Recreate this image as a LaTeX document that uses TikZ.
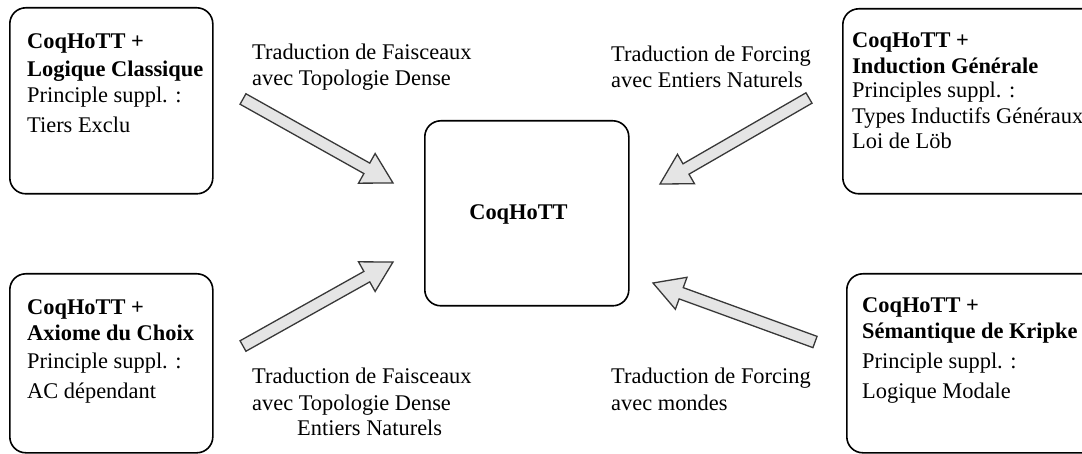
\documentclass[tikz,border=0pt]{standalone}
\usepackage{fontspec}
\setmainfont{Liberation Serif}
\usetikzlibrary{calc}
\tikzset{
  box/.style={draw=black, line width=1.6pt, rounded corners=16pt, anchor=north west, inner sep=0pt},
  txt/.style={anchor=base west, inner sep=0pt, font=\fontsize{22.4}{26}\selectfont},
  hd/.style={txt, font=\fontsize{22.4}{26}\selectfont\bfseries},
  fat/.style={draw=black!78, fill=black!10, line width=1.3pt, line join=miter},
}
\newcommand\fatarrow[2]{%
  \coordinate (#1h) at ($(#2)!30pt!(#1)$);
  \draw[fat] ($(#1)!6pt!90:(#2)$) -- ($(#1h)!6pt!90:(#2)$) -- ($(#1h)!17pt!90:(#2)$)
    -- (#2) -- ($(#1h)!17pt!-90:(#2)$) -- ($(#1h)!6pt!-90:(#2)$) -- ($(#1)!6pt!-90:(#2)$) -- cycle;
}
\begin{document}
\begin{tikzpicture}[x=1pt,y=-1pt]
\useasboundingbox (0,0) rectangle (1082,454);
\clip (0,0) rectangle (1082,454);
% boxes
\node[box, minimum width=203pt, minimum height=186pt] (tl) at (9,7) {};
\node[box, minimum width=260pt, minimum height=185pt] (tr) at (842,8) {};
\node[box, minimum width=203pt, minimum height=179pt] (bl) at (9,273) {};
\node[box, minimum width=260pt, minimum height=179pt] (br) at (846,273) {};
\node[box, minimum width=204pt, minimum height=185pt] (c) at (424,120) {};
\node[hd, anchor=base] (ct) at (518.5,220) {CoqHoTT};
% top-left text
\node[hd] (tl1) at (27,49) {CoqHoTT +};
\node[hd] (tl2) at (27,77) {Logique Classique};
\node[txt] (tl3) at (27,103) {Principle suppl. :};
\node[txt] (tl4) at (27,133) {Tiers Exclu};
% top-right text
\node[hd] (tr1) at (852,48) {CoqHoTT +};
\node[hd] (tr2) at (852,74) {Induction Générale};
\node[txt] (tr3) at (852,98) {Principles suppl. :};
\node[txt] (tr4) at (852,124) {Types Inductifs Généraux};
\node[txt] (tr5) at (852,149) {Loi de Löb};
% bottom-left text
\node[hd] (bl1) at (27,315) {CoqHoTT +};
\node[hd] (bl2) at (27,341) {Axiome du Choix};
\node[txt] (bl3) at (27,368) {Principle suppl. :};
\node[txt] (bl4) at (27,398) {AC dépendant};
% bottom-right text
\node[hd] (br1) at (862,313) {CoqHoTT +};
\node[hd] (br2) at (862,339) {Sémantique de Kripke};
\node[txt] (br3) at (862,368) {Principle suppl. :};
\node[txt] (br4) at (862,398) {Logique Modale};
% labels
\node[txt] (l1a) at (252,60) {Traduction de Faisceaux};
\node[txt] (l1b) at (252,86) {avec Topologie Dense};
\node[txt] (l2a) at (611,62) {Traduction de Forcing};
\node[txt] (l2b) at (611,88) {avec Entiers Naturels};
\node[txt] (l3a) at (252,383) {Traduction de Faisceaux};
\node[txt] (l3b) at (252,410) {avec Topologie Dense};
\node[txt] (l3c) at (297,435) {Entiers Naturels};
\node[txt] (l4a) at (611,383) {Traduction de Forcing};
\node[txt] (l4b) at (611,410) {avec mondes};
% arrows
\coordinate (a1) at (243,99);  \coordinate (b1) at (393,183);
\coordinate (a2) at (809,98);  \coordinate (b2) at (660,184);
\coordinate (a3) at (243,346); \coordinate (b3) at (393,262);
\coordinate (a4) at (815,342); \coordinate (b4) at (653,283);
\fatarrow{a1}{b1}
\fatarrow{a2}{b2}
\fatarrow{a3}{b3}
\fatarrow{a4}{b4}
\end{tikzpicture}
\end{document}
